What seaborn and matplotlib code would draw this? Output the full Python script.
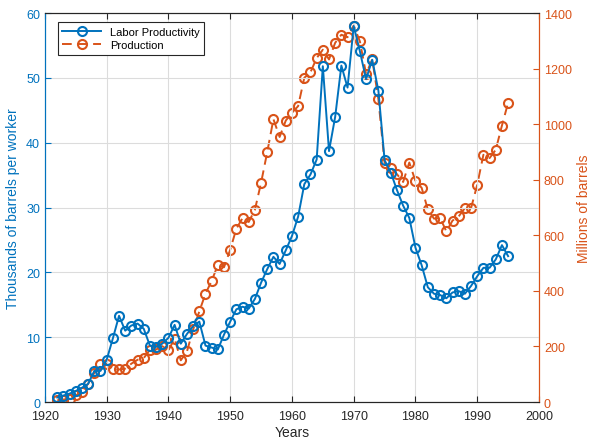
import matplotlib
matplotlib.use("Agg")
import matplotlib.pyplot as plt
import seaborn as sns
import pandas as pd

years = list(range(1922, 1996))
productivity = [0.7, 1.0, 1.3, 1.7, 2.2, 2.8, 4.8, 4.8, 6.5, 9.8,
                13.3, 11.0, 11.8, 12.1, 11.3, 8.7, 8.5, 9.0, 9.9, 11.9,
                9.0, 10.5, 11.7, 12.4, 8.7, 8.4, 8.1, 10.4, 12.4, 14.3,
                14.7, 14.4, 15.9, 18.4, 20.5, 22.4, 21.3, 23.4, 25.6, 28.6,
                33.6, 35.1, 37.4, 51.8, 38.7, 44.0, 51.9, 48.5, 58.0, 54.1,
                49.8, 52.8, 48.0, 37.3, 35.4, 32.7, 30.3, 28.4, 23.8, 21.1,
                17.7, 16.7, 16.5, 16.0, 16.9, 17.1, 16.7, 17.9, 19.4, 20.7,
                20.7, 22.0, 24.2, 22.5]
production = [6, 9, 12, 24, 36, 66, 105, 135, 138, 117,
              117, 120, 138, 152, 158, 188, 189, 201, 186, 228,
              150, 182, 261, 326, 390, 436, 493, 485, 548, 624,
              662, 648, 692, 789, 900, 1018, 954, 1013, 1041, 1065,
              1167, 1187, 1238, 1268, 1233, 1293, 1322, 1313, 1355, 1298,
              1181, 1233, 1089, 861, 842, 820, 792, 862, 795, 771,
              693, 660, 662, 614, 653, 668, 698, 698, 782, 890,
              878, 908, 995, 1077]

df = pd.DataFrame({"Years": years, "Labor Productivity": productivity,
                   "Production": production})

blue = (0.0, 0.447, 0.741)
orange = (0.85, 0.325, 0.098)

plt.rcParams["font.family"] = ["Liberation Sans", "DejaVu Sans"]
plt.rcParams["font.size"] = 9

fig = plt.figure(figsize=(5.91, 4.39), dpi=100)
ax = fig.add_axes([0.076, 0.082, 0.836, 0.886])
ax2 = ax.twinx()

sns.lineplot(data=df, x="Years", y="Labor Productivity", ax=ax, color=blue,
             marker="o", markersize=6.5, markerfacecolor="none",
             markeredgecolor=blue, markeredgewidth=1.5, linewidth=1.4,
             label="Labor Productivity", legend=False)
sns.lineplot(data=df, x="Years", y="Production", ax=ax2, color=orange,
             marker="o", markersize=6.5, markerfacecolor="none",
             markeredgecolor=orange, markeredgewidth=1.5, linewidth=1.4,
             linestyle=(0, (5, 3)), label="Production", legend=False)

ax.set_xlim(1920, 2000)
ax.set_ylim(0, 60)
ax2.set_ylim(0, 1400)
ax.set_xticks(range(1920, 2001, 10))
ax.set_yticks(range(0, 61, 10))
ax2.set_yticks(range(0, 1401, 200))

ax.grid(True, color="#dcdcdc", linewidth=0.8)
ax.set_axisbelow(True)

ax.set_xlabel("Years", fontsize=10, color="#262626", labelpad=2)
ax.set_ylabel("Thousands of barrels per worker", fontsize=10, color=blue)
ax2.set_ylabel("Millions of barrels", fontsize=10, color=orange)

for a in (ax, ax2):
    a.tick_params(direction="in", length=4, width=0.8)
    a.spines["top"].set_color("#262626")
    a.spines["bottom"].set_color("#262626")
ax.tick_params(axis="x", colors="#262626", top=True, pad=6)
ax.tick_params(axis="y", colors=blue)
ax2.tick_params(axis="y", colors=orange)
ax.spines["left"].set_color(blue)
ax2.spines["left"].set_color(blue)
ax2.spines["right"].set_color(orange)
ax.spines["right"].set_color(orange)

h1, l1 = ax.get_legend_handles_labels()
h2, l2 = ax2.get_legend_handles_labels()
leg = ax.legend(h1 + h2, l1 + l2, loc="upper left", fontsize=8,
                bbox_to_anchor=(0.015, 0.99), fancybox=False, framealpha=1,
                edgecolor="#262626", borderpad=0.4, handlelength=3.5,
                labelspacing=0.3)
leg.get_frame().set_linewidth(0.8)
ax.set_zorder(ax2.get_zorder() + 1)
ax.patch.set_visible(False)

fig.savefig("out.png", dpi=100)
